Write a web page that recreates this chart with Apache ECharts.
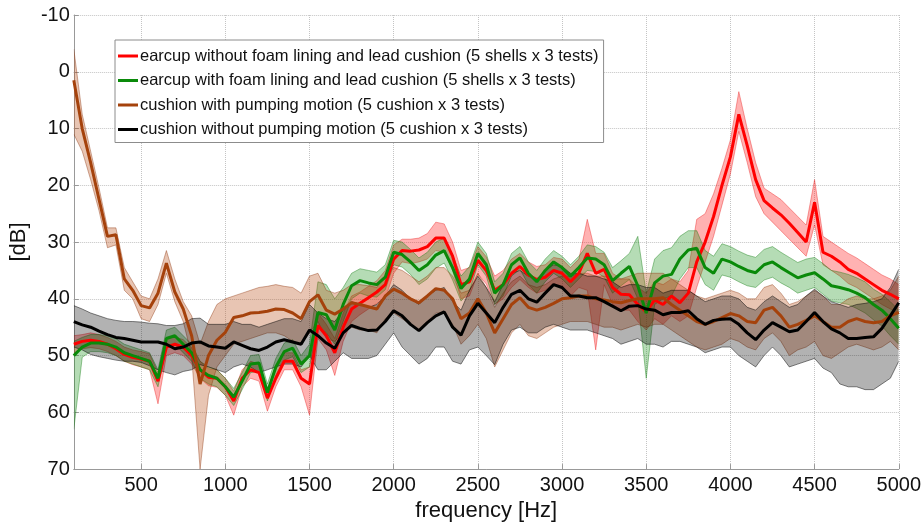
<!DOCTYPE html>
<html>
<head>
<meta charset="utf-8">
<script src="https://cdn.jsdelivr.net/npm/echarts@6/dist/echarts.min.js"></script>
<style>
  html, body { margin: 0; padding: 0; background: #fff; }
  #chart { width: 924px; height: 527px; }
</style>
</head>
<body>
<div id="chart"></div>
<script>
// frequency grid [Hz]
const freq = [100,150,200,250,300,350,400,450,500,550,
  600,650,700,750,800,850,900,950,1000,1050,
  1100,1150,1200,1250,1300,1350,1400,1450,1500,1550,
  1600,1650,1700,1750,1800,1850,1900,1950,2000,2050,
  2100,2150,2200,2250,2300,2350,2400,2450,2500,2550,
  2600,2650,2700,2750,2800,2850,2900,2950,3000,3050,
  3100,3150,3200,3250,3300,3350,3400,3450,3500,3550,
  3600,3650,3700,3750,3800,3850,3900,3950,4000,4050,
  4100,4150,4200,4250,4300,4350,4400,4450,4500,4550,
  4600,4650,4700,4750,4800,4850,4900,4950,5000];

// earcup without foam lining and lead cushion
const redMean = [48,47.5,47.3,47.5,48,48.8,49.8,50.3,50.6,51,
  54.5,48.5,48,48.5,50,52.5,53.8,54,55.5,58,
  54,52.5,53,57.5,54,51,51,54,55,44.7,
  46.5,49.5,45,41.8,40.8,39.8,38.8,37.5,33,31.5,
  31.6,31.4,30.8,29.3,29.3,32.5,37.5,37,33.2,35,
  38.5,37.5,35.5,34.3,35.8,36.6,36.2,35,35.5,37,
  35.5,32,35.5,34.8,38,39.2,39.3,41,42.3,40.2,
  41,39.5,40.7,39,33.5,30,25.5,20,15,7.5,
  13,19,22.7,24,25.2,26.7,28.3,30,23,31.8,
  32.5,33.5,34.8,35.5,36.5,37.5,38.5,39.2,40];
const redLo = [46.5,46.3,46,46.3,46.8,47.5,48.5,49,49.3,49.7,
  53,47,46.7,47.2,48.6,51,52.3,52.5,54,56.3,
  52.5,51,51.5,55.8,52.5,49.5,49.5,52.5,52,42.5,
  44.5,47,42.5,39.5,38.8,37.8,36.8,35,30.5,29.5,
  29.5,29.3,28.5,26.5,26.8,30,35,34.5,30.8,32.6,
  36,35,33,32,33.5,34.3,34,32.7,33,34.5,
  33,26,32,32,35.5,36.5,36.5,38,39,37,
  37.5,36.5,37,35,26,25,21.5,17,12,3.5,
  10,16,20.5,21.5,22.5,24,25.5,27,19,29,
  30,31,32,32.8,33.8,34.8,35.8,36.5,37.5];
const redHi = [49.5,48.8,48.6,48.8,49.3,50,51,51.6,52,52.5,
  58.5,50,49.5,50,51.5,54,55.3,55.6,57,60.5,
  55.5,54,54.5,59.8,55.5,52.5,52.5,55.5,60.5,47,
  49,53.5,47.5,44,42.8,41.8,40.8,40,35.5,33.5,
  33.8,33.5,33,31.5,31.8,35,40,39.5,35.6,37.4,
  41,40,38,36.6,38,39,38.5,37.3,38,39.5,
  38,38.5,49,37.5,41,42,42,44,45.5,43.5,
  44.5,43,44,43,38,33.5,29,23.5,18,10.5,
  16,22,25,26.5,28,29.5,31,32.5,27,34,
  35,36,37.3,38,39,40,41,41.8,42.5];

// earcup with foam lining and lead cushion
const greenMean = [50,48.5,47.8,47.8,48,48.5,49.5,50,50.5,51,
  54,47,46.5,48,49.5,52.5,53.5,54,55.5,57.3,
  54.5,51.5,51.3,56.5,52,49.3,48.7,51.5,50,42.4,
  42.8,45.5,41,37.7,36.8,37.2,37.5,36.2,31.8,32.2,
  33.5,35,34,32.3,31.5,34.5,38.2,36.5,32,34,
  39,37.5,34,32.8,35.5,37,35,33.5,34.5,36,
  34.5,32.8,33,34,36.8,35.5,34.3,37.7,42.5,37.2,
  36,35.7,33,31.4,31.1,34.5,35.5,33,33.5,34.3,
  35,35.4,34,33.5,34.5,35.4,36.3,35.8,35.4,36.5,
  37.7,38,38.4,39,39.8,41,42,43.5,45.2];
const greenLo = [47.5,46.8,46.3,46.3,46.5,47,48,48.5,49,49.5,
  52.5,45.5,45,46.5,48,51,52,52.5,54,55.8,
  53,50,49.8,55,50.5,47.8,47.2,50,48,37,
  37.5,40,38,35.5,34.7,35,35.3,34,29.7,30,
  31.3,32.8,31.8,30,29.3,32.3,36,34.3,30,32,
  37,35.5,32,30.8,33.5,35,33,31.5,32.5,34,
  32.5,30.5,30.8,31.8,34.5,33.3,32,29,39,33,
  31.5,31,29,28,28,31.5,32.5,30.3,30.8,31.6,
  32.3,32.7,31.3,30.8,31.8,32.7,33.6,33,32.7,33.8,
  35,35.3,35.7,36.3,37,38.3,39.2,40.5,42];
const greenHi = [63,50.3,49.3,49.3,49.5,50,51,51.5,52,52.5,
  55.5,48.5,48,49.5,51,54,55,55.5,57,58.8,
  56,53,52.8,58,53.5,50.8,50.2,53,52,45,
  46,48,44,40,39,39.5,39.7,38.4,34,34.4,
  35.7,37.5,36.5,34.6,33.7,36.7,40.4,38.7,34,36,
  41,39.5,36,34.8,37.5,39,37,35.5,36.5,38,
  36.5,35,35.2,36.2,39,37.7,36.6,40,54,41,
  40,39.5,36.5,34.5,34.5,37.5,38.5,35.8,36.2,37,
  37.7,38,36.7,36.2,37.2,38,39,38.5,38,39.2,
  40.4,40.7,41,41.7,42.5,43.7,44.8,46.5,48];

// cushion with pumping motion
const brownMean = [1.5,10,16,22.5,29,28.7,36.5,38.5,41.2,41.6,
  39,33.7,38.8,41.8,46.5,55,50,47.3,45.9,43.3,
  43,42.5,42.4,42.2,41.8,41.9,42.5,43.5,40.5,39.3,
  42,42.7,41.8,40.7,41,41.4,41.8,39.5,38.3,39,
  40,40.7,39.5,38.2,38.5,40,43.5,42.5,40,42.5,
  46,43.5,41,39.8,41.5,42,41.5,40.8,40,39.8,
  39.5,39.5,40,40.2,40.5,40.7,40.3,40,40,40,
  39.8,41,42,43,44,44.5,44,43.3,42.6,43,
  44,44.2,42,41.5,43,45,44.5,43.8,43,44,
  45,45,44,43.5,44,44.2,44,43,42.4];
const brownLo = [-4,7.5,14,20.5,27.5,27.5,34.5,37,39.5,40,
  36.5,31.5,36.5,40.5,43,48,44,41,40,39.5,
  39,38.5,38,37.8,37.5,37.8,38,39,36,35.5,
  38.5,39,38.5,37.5,37.5,37.7,38,36,34.5,35,
  36,37,36,34.5,34.5,36,39,38.5,35.5,38,
  41.5,39,37,36,37.5,38,37.5,36.5,36,36,
  35.5,35.5,36,36,36.5,36.5,36,35.5,35.5,35.5,
  35.5,36.5,37.5,38.5,39.5,40,39.5,39,38.5,39,
  40,40,38,37.5,39,41,40.5,39.5,38.5,39.5,
  41,41,40,39.5,40,40,39.5,38.5,36];
const brownHi = [11,14,19,24.5,31,30.5,38.5,40,43.5,44,
  41,35.5,40.5,44,50,70,57,52,50,48,
  47.5,47,46.5,46,46,46.5,47.5,48,46,44,
  47,47.5,46,45,45.5,45.5,46,43.5,42.5,43.5,
  44.5,45.5,44,42.5,42.5,44.5,48,46.5,44.5,47,
  52,49,46,44.5,46.5,47,46,45,44.5,44,
  44,44,44.5,45,45,45.5,45,44.5,45,44.5,
  44.5,45.5,46.5,47.5,48.5,49,48.5,48,47,47.5,
  48.5,49,47,46,47.5,50,49,48.5,47.5,50,
  50.5,49.5,48.5,48,48.5,49,48.5,47.5,49];

// cushion without pumping motion
const blackMean = [44,44.6,45,45.7,46.3,46.8,47,47.3,47.6,47.6,
  47.6,48,48.8,48.5,47.8,47.6,48.3,48.5,48.7,47.6,
  48.2,48.8,49.1,48.5,47.6,47.2,47.6,48,45.5,46.5,
  47.8,48.7,46,44.7,45.2,45.6,45.5,44,42.1,43,
  44.5,45.6,44.2,43,42.3,45,46.4,43,40.8,42.5,
  44.2,41.5,39.2,38.5,40,40.6,39,37.5,38,39.5,
  39.5,39.8,39.8,40.5,41.3,42.1,41.3,41.2,41.8,42,
  42.8,42.4,42.4,42.1,43.5,44.5,43.8,43.6,43.5,44.5,
  46,47.2,45.5,44.2,45,45.8,45.5,44,42.4,44,
  45.3,46,47,47,46.8,46.7,45.2,43,40.7];
const blackLo = [41.2,41.8,42.5,43,43.5,43.8,44,44,44.1,44.3,
  44.4,44.7,44.7,44.4,43.5,43.4,44.5,44.5,44.5,44,
  44.5,44.5,45,44.5,44,43.5,43.5,44,41,42.5,
  43.5,44,42,40.5,41,41.5,41,39.5,37.5,38.5,
  40,41,39.5,38.5,38,40.5,42,38.5,36,38,
  40.5,37.5,35.5,35,36,36.5,35,34,34.3,35.5,
  35.5,36,36,36.5,37,38,37.5,37.5,38,38,
  39,38.5,38.5,38.5,39.5,40.5,40,39.5,39.5,40,
  41.5,42,40.5,39.5,40.5,41.5,41,39.5,38.3,39.5,
  40.5,41,41.5,41,40.8,40.5,40,38,34.8];
const blackHi = [48.5,49,49.8,50.2,50.5,50.8,51,51,51.2,51.8,
  52.5,53,53.4,52.8,52.5,51.6,52,52.5,53,52,
  51.5,52,53,52.5,52,51.5,51.5,52,50,52.5,
  52.5,51,49.5,50.5,50.5,50.5,50,48,46,48.5,
  50,51.5,50.5,48.5,48.5,51,51.5,49,48.5,50,
  51.6,48,45.5,45,46,46,45,44.5,45,45.5,
  45.5,45.5,46,46.5,47,48,47.5,47,48,48,
  48.5,47.5,47.5,48,48.5,49.5,49,48.5,48.5,50,
  51,52,50,48.5,50,52,51.5,51,50.5,52.2,
  53,55,55.5,55.5,56,56,55,54,51];

const xTicks = [500,1000,1500,2000,2500,3000,3500,4000,4500,5000];

const names = [
  'earcup without foam lining and lead cushion (5 shells x 3 tests)',
  'earcup with foam lining and lead cushion (5 shells x 3 tests)',
  'cushion with pumping motion (5 cushion x 3 tests)',
  'cushion without pumping motion (5 cushion x 3 tests)'
];
const lineColors = ['#ff0000', '#0a8a0a', '#a5420c', '#000000'];
const bandFills = ['rgba(255,0,0,0.3)', 'rgba(10,138,10,0.3)', 'rgba(185,75,20,0.32)', 'rgba(0,0,0,0.3)'];
const bandEdges = ['rgba(230,0,0,0.45)', 'rgba(10,120,10,0.5)', 'rgba(140,50,10,0.5)', 'rgba(0,0,0,0.6)'];

const means = [redMean, greenMean, brownMean, blackMean];
const los = [redLo, greenLo, brownLo, blackLo];
const his = [redHi, greenHi, brownHi, blackHi];

const pairs = (arr) => freq.map((f, i) => [f, arr[i]]);

// one polygon per band, placed through the axes with api.coord
const bandSeries = (k) => ({
  name: 'band' + k,
  type: 'custom',
  silent: true,
  clip: true,
  data: freq.map((f, i) => [f, los[k][i], his[k][i]]),
  encode: { x: 0, y: [1, 2] },
  renderItem: (params, api) => {
    if (params.dataIndex !== 0) return null;
    const top = freq.map((f, i) => api.coord([f, los[k][i]]));
    const bot = freq.map((f, i) => api.coord([f, his[k][i]]));
    const cs = params.coordSys;
    return {
      type: 'group',
      clipPath: { type: 'rect', shape: { x: cs.x, y: cs.y, width: cs.width, height: cs.height } },
      children: [
        { type: 'polygon', shape: { points: top.concat(bot.slice().reverse()) },
          style: { fill: bandFills[k], stroke: null } },
        { type: 'polyline', shape: { points: top },
          style: { fill: null, stroke: bandEdges[k], lineWidth: 0.8 } },
        { type: 'polyline', shape: { points: bot },
          style: { fill: null, stroke: bandEdges[k], lineWidth: 0.8 } }
      ]
    };
  }
});

const series = [];
for (let k = 0; k < 4; k++) series.push(bandSeries(k));
for (let k = 0; k < 4; k++) {
  series.push({
    name: names[k],
    type: 'line',
    data: pairs(means[k]),
    showSymbol: false,
    symbol: 'none',
    itemStyle: { color: lineColors[k] },
    lineStyle: { width: 3, color: lineColors[k] }
  });
}

const chart = echarts.init(document.getElementById('chart'));
chart.setOption({
  animation: false,
  backgroundColor: '#fff',
  textStyle: { fontFamily: 'Liberation Sans, Arial, sans-serif' },
  grid: { left: 71, right: 25, top: 15, bottom: 51 },
  legend: {
    data: names.map(n => ({ name: n, icon: 'rect' })),
    orient: 'vertical',
    left: 115,
    top: 40,
    itemWidth: 20,
    itemHeight: 3,
    itemGap: 4.5,
    padding: [6, 5, 3, 3],
    backgroundColor: '#fff',
    borderColor: '#8c8c8c',
    borderWidth: 1,
    borderRadius: 0,
    selectedMode: false,
    textStyle: { fontSize: 16.5, color: '#111', lineHeight: 20, padding: [0, 0, 0, -3] }
  },
  xAxis: {
    type: 'value',
    min: 100,
    max: 5000,
    name: 'frequency [Hz]',
    nameLocation: 'middle',
    nameGap: 25,
    nameTextStyle: { fontSize: 22, color: '#111' },
    axisLine: { onZero: false, lineStyle: { color: '#999', width: 1 } },
    axisTick: { inside: true, length: 5, customValues: xTicks, lineStyle: { color: '#999' } },
    axisLabel: { customValues: xTicks, fontSize: 20, color: '#111', margin: 6,
      formatter: (v) => String(v) },
    splitLine: { show: true, lineStyle: { color: '#c4c4c4', type: 'dotted', width: 1 } }
  },
  yAxis: {
    type: 'value',
    inverse: true,
    min: -10,
    max: 70,
    interval: 10,
    name: '[dB]',
    nameLocation: 'middle',
    nameGap: 35,
    nameRotate: 90,
    nameTextStyle: { fontSize: 22, color: '#111' },
    axisLine: { show: true, onZero: false, lineStyle: { color: '#999', width: 1 } },
    axisTick: { show: true, inside: true, length: 5, lineStyle: { color: '#999' } },
    axisLabel: { fontSize: 20, color: '#111', margin: 4, formatter: (v) => String(v) },
    splitLine: { show: true, lineStyle: { color: '#c4c4c4', type: 'dotted', width: 1 } }
  },
  series: series
});
</script>
</body>
</html>
